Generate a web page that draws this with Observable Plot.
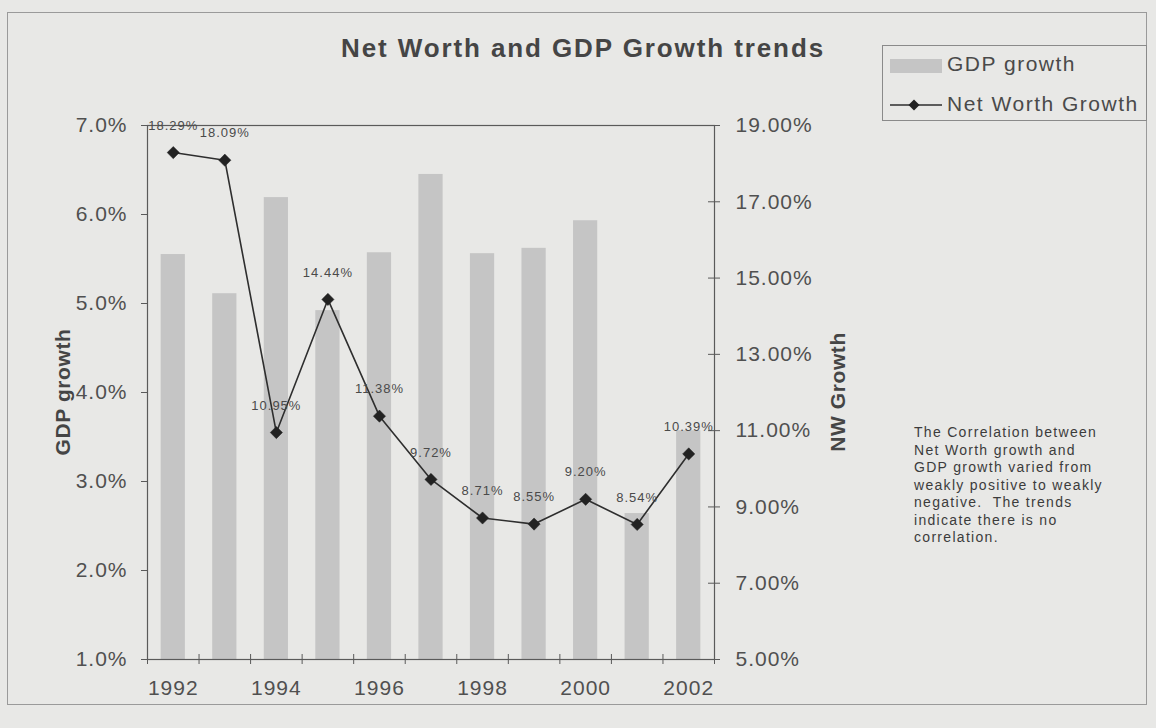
<!DOCTYPE html>
<html>
<head>
<meta charset="utf-8">
<script src="https://cdn.jsdelivr.net/npm/d3@7"></script>
<script src="https://cdn.jsdelivr.net/npm/@observablehq/plot@0.6"></script>
<style>
  html, body { margin: 0; padding: 0; background: #e8e8e6; }
  #wrap { position: relative; width: 1156px; height: 728px; overflow: hidden; background: #e8e8e6;
          font-family: "Liberation Sans", Arial, sans-serif; color: #4a4a4a; }
  #chart { position: absolute; left: 0; top: 0; }
  #chart svg text { letter-spacing: 1px; }
  #chart svg g.labels text { letter-spacing: 0.3px; }
  .border { position: absolute; left: 7px; top: 12px; width: 1140px; height: 693px; border: 1px solid #9a9a9a; box-sizing: border-box; }
  .title { position: absolute; left: 583px; top: 33px; transform: translateX(-50%); font-size: 26px; font-weight: bold;
           letter-spacing: 1.9px; white-space: nowrap; color: #454545; }
  .ytitle { position: absolute; font-size: 21px; font-weight: bold; white-space: nowrap; color: #454545; letter-spacing: 0.6px;
            transform: translate(-50%, -50%) rotate(-90deg); }
  .legend { position: absolute; left: 882px; top: 45px; width: 265px; height: 76px; border: 1px solid #8a8a8a; box-sizing: border-box; }
  .legend .row { position: absolute; left: 64px; font-size: 21px; white-space: nowrap; letter-spacing: 1.5px; color: #4a4a4a; }
  .note { position: absolute; left: 914px; top: 424px; font-size: 14px; line-height: 17.5px; letter-spacing: 1.3px; color: #3c3c3c; white-space: nowrap; }
</style>
</head>
<body>
<div id="wrap">
  <div class="border"></div>
  <div id="chart"></div>
  <div class="title" id="title"></div>
  <div class="ytitle" id="ylLeft" style="left:63px; top:392px;"></div>
  <div class="ytitle" id="ylRight" style="left:838px; top:392px;"></div>
  <div class="legend" id="legend"></div>
  <div class="note" id="note"></div>
</div>
<script>
// ---- data ----
const years = [1992, 1993, 1994, 1995, 1996, 1997, 1998, 1999, 2000, 2001, 2002];
const gdpGrowth = [5.55, 5.11, 6.19, 4.92, 5.57, 6.45, 5.56, 5.62, 5.93, 2.64, 3.57];
const nwGrowth = [18.29, 18.09, 10.95, 14.44, 11.38, 9.72, 8.71, 8.55, 9.20, 8.54, 10.39];
const leftTicks = [1, 2, 3, 4, 5, 6, 7];
const rightTicks = [5, 7, 9, 11, 13, 15, 17, 19];
const xTickLabels = [1992, 1994, 1996, 1998, 2000, 2002];
const titleText = "Net Worth and GDP Growth trends";
const leftAxisTitle = "GDP growth";
const rightAxisTitle = "NW Growth";
const seriesNames = ["GDP growth", "Net Worth Growth"];
const noteLines = [
  "The Correlation between",
  "Net Worth growth and",
  "GDP growth varied from",
  "weakly positive to weakly",
  "negative.  The trends",
  "indicate there is no",
  "correlation."
];

// ---- scales mapping (right axis onto left) ----
const L0 = leftTicks[0], L1 = leftTicks[leftTicks.length - 1];
const R0 = rightTicks[0], R1 = rightTicks[rightTicks.length - 1];
const toLeft = v => L0 + (v - R0) * (L1 - L0) / (R1 - R0);
const fromLeft = v => R0 + (v - L0) * (R1 - R0) / (L1 - L0);

const rows = years.map((year, i) => ({year, gdp: gdpGrowth[i], nw: nwGrowth[i]}));
const boundaries = years.map(y => y - 0.5).concat([years[years.length - 1] + 0.5]);

const W = 1156, H = 728;
const mL = 147, mR = 442, mT = 125, mB = 69;
const plotW = W - mL - mR, plotH = H - mT - mB;
const axisColor = "#5a5a5a";

const chart = Plot.plot({
  width: W, height: H,
  marginLeft: mL, marginRight: mR, marginTop: mT, marginBottom: mB,
  style: {background: "transparent", fontFamily: "'Liberation Sans', Arial, sans-serif", fontSize: "21px", color: "#505050", overflow: "visible"},
  x: {type: "linear", domain: [boundaries[0], boundaries[boundaries.length - 1]], axis: null, label: null},
  y: {domain: [L0, L1], axis: null, label: null},
  marks: [
    Plot.rectY(rows, {x1: d => d.year - 0.235, x2: d => d.year + 0.235, y1: L0, y2: "gdp", fill: "#c5c5c5"}),
    Plot.frame({stroke: axisColor, strokeWidth: 1.2}),
    Plot.axisY({ticks: leftTicks, anchor: "left", label: null, tickSize: 6, tickPadding: 14, stroke: axisColor,
                tickFormat: d => d.toFixed(1) + "%", fontSize: 21}),
    Plot.axisY({ticks: rightTicks.map(toLeft), anchor: "right", label: null, tickSize: 0, tickPadding: 21,
                tickFormat: v => fromLeft(v).toFixed(2) + "%", fontSize: 21}),
    Plot.tickY(rightTicks.map(toLeft), {y: d => d, insetLeft: plotW - 6, insetRight: -6, stroke: axisColor}),
    Plot.axisX({ticks: xTickLabels, anchor: "bottom", label: null, tickSize: 0, tickPadding: 21, tickFormat: d => String(d), fontSize: 21}),
    Plot.tickX(boundaries, {x: d => d, insetTop: plotH - 5, insetBottom: -5, stroke: axisColor}),
    Plot.line(rows, {x: "year", y: d => toLeft(d.nw), stroke: "#2e2e2e", strokeWidth: 1.6}),
    Plot.dot(rows, {x: "year", y: d => toLeft(d.nw), symbol: "diamond2", r: 5.5, fill: "#222", stroke: "#222", strokeWidth: 0.5}),
    Plot.text(rows, {x: "year", y: d => toLeft(d.nw), text: d => d.nw.toFixed(2) + "%", dy: -27, fontSize: 13, fill: "#4a4a4a"})
  ]
});
document.getElementById("chart").appendChild(chart);

// ---- text overlays ----
document.getElementById("title").textContent = titleText;
document.getElementById("ylLeft").textContent = leftAxisTitle;
document.getElementById("ylRight").textContent = rightAxisTitle;
document.getElementById("note").innerHTML = noteLines.map(s => s.replace(/  /g, "&nbsp; ")).join("<br>");

// legend
const legend = document.getElementById("legend");
legend.innerHTML = `
  <svg width="60" height="76" style="position:absolute;left:0;top:0;">
    <rect x="7" y="13" width="52" height="14" fill="#c5c5c5"></rect>
    <line x1="7" y1="59" x2="59" y2="59" stroke="#2e2e2e" stroke-width="1.6"></line>
    <path d="M31,53.5 L36.5,59 L31,64.5 L25.5,59 Z" fill="#222"></path>
  </svg>
  <div class="row" style="top:6px;">${seriesNames[0]}</div>
  <div class="row" style="top:46px;">${seriesNames[1]}</div>`;
</script>
</body>
</html>
